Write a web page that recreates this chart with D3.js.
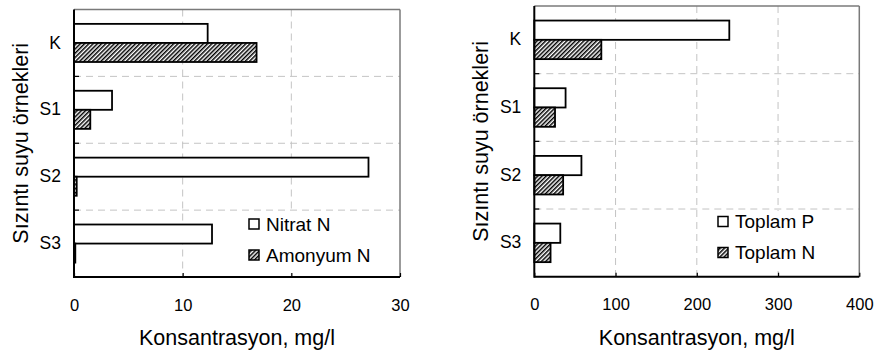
<!DOCTYPE html>
<html>
<head>
<meta charset="utf-8">
<script src="https://cdn.jsdelivr.net/npm/d3@7"></script>
<style>
  html, body { margin: 0; padding: 0; background: #fff; }
  svg { display: block; font-family: "Liberation Sans", Arial, sans-serif; }
</style>
</head>
<body>
<svg id="chart" width="876" height="351"></svg>
<script>
// ---- data ----
const categories = ["K", "S1", "S2", "S3"];
const nitratN = [12.3, 3.5, 27.1, 12.7];
const amonyumN = [16.8, 1.5, 0.25, 0.12];
const toplamP = [240, 38.5, 58, 32];
const toplamN = [82.5, 25.5, 35.5, 20];
const leftTicks = [0, 10, 20, 30];
const rightTicks = [0, 100, 200, 300, 400];
const leftSeriesNames = ["Nitrat N", "Amonyum N"];
const rightSeriesNames = ["Toplam P", "Toplam N"];
const xTitle = "Konsantrasyon, mg/l";
const yTitle = "Sızıntı suyu örnekleri";

const svg = d3.select("#chart");
const defs = svg.append("defs");
const pat = defs.append("pattern")
  .attr("id", "hatch").attr("patternUnits", "userSpaceOnUse")
  .attr("width", 3).attr("height", 3)
  .attr("patternTransform", "rotate(45)");
pat.append("rect").attr("width", 3).attr("height", 3).attr("fill", "#fff");
pat.append("line").attr("x1", 0.75).attr("y1", 0).attr("x2", 0.75).attr("y2", 3)
  .attr("stroke", "#000").attr("stroke-width", 1.5);

function drawChart(cfg) {
  const { left, right, top, bottom, domainMax, ticks, s1, s2, names, legend } = cfg;
  const g = svg.append("g");
  const x = d3.scaleLinear().domain([0, domainMax]).range([left, right]);
  const y = d3.scaleBand().domain(categories).range([top, bottom]).paddingInner(0).paddingOuter(0);
  const bw = y.bandwidth();
  const barH = bw * 0.285;
  const off = (bw - 2 * barH) / 2;

  // gridlines
  const grid = g.append("g").attr("stroke", "#c4c4c4").attr("stroke-width", 1)
    .attr("stroke-dasharray", "7,5").attr("fill", "none");
  ticks.filter(t => t > 0 && t < domainMax).forEach(t => {
    grid.append("line").attr("x1", x(t)).attr("x2", x(t)).attr("y1", top).attr("y2", bottom);
  });
  categories.slice(1).forEach(c => {
    grid.append("line").attr("x1", left).attr("x2", right).attr("y1", y(c)).attr("y2", y(c));
  });

  // bars
  const bars = g.append("g");
  bars.selectAll("rect.a").data(categories).join("rect")
    .attr("x", x(0)).attr("y", c => y(c) + off)
    .attr("width", (c, i) => x(s1[i]) - x(0)).attr("height", barH)
    .attr("fill", "#fff").attr("stroke", "#000").attr("stroke-width", 1.8);
  bars.selectAll("rect.b").data(categories).join("rect")
    .attr("x", x(0)).attr("y", c => y(c) + off + barH)
    .attr("width", (c, i) => x(s2[i]) - x(0)).attr("height", barH)
    .attr("fill", "url(#hatch)").attr("stroke", "#000").attr("stroke-width", 1.8);

  // legend (white background hides gridlines)
  g.append("rect").attr("x", legend.bx).attr("y", legend.by).attr("width", legend.bw).attr("height", legend.bh)
    .attr("fill", "#fff");
  names.forEach((n, i) => {
    const yy = legend.y0 + i * legend.dy;
    g.append("rect").attr("x", legend.x).attr("y", yy).attr("width", 10).attr("height", 10)
      .attr("fill", i === 0 ? "#fff" : "url(#hatch)").attr("stroke", "#000").attr("stroke-width", 1.5);
    g.append("text").attr("x", legend.x + 17).attr("y", yy + 11.5)
      .attr("font-size", 19).attr("fill", "#000").text(n);
  });

  // frame
  g.append("line").attr("x1", left).attr("x2", right).attr("y1", top).attr("y2", top)
    .attr("stroke", "#7a7a7a").attr("stroke-width", 1.5);
  g.append("line").attr("x1", right).attr("x2", right).attr("y1", top).attr("y2", bottom)
    .attr("stroke", "#7a7a7a").attr("stroke-width", 1.5);

  // x axis
  const xa = g.append("g").attr("transform", `translate(0,${bottom})`)
    .call(d3.axisBottom(x).tickValues(ticks).tickSize(-4).tickPadding(22).tickFormat(d3.format("d")));
  xa.select(".domain").remove();
  xa.selectAll(".tick line").attr("stroke", "#000").attr("stroke-width", 1.2);
  xa.selectAll(".tick text").attr("font-size", 16.5).attr("font-family", "Liberation Sans, Arial, sans-serif").attr("fill", "#000");

  // y axis labels
  const ya = g.append("g").attr("transform", `translate(${left},0)`)
    .call(d3.axisLeft(y).tickSize(0).tickPadding(13));
  ya.select(".domain").remove();
  ya.selectAll(".tick text").attr("font-size", 17.5).attr("font-family", "Liberation Sans, Arial, sans-serif").attr("fill", "#000");
  // boundary ticks
  categories.slice(1).forEach(c => {
    g.append("line").attr("x1", left).attr("x2", left + 5).attr("y1", y(c)).attr("y2", y(c))
      .attr("stroke", "#000").attr("stroke-width", 1.2);
  });

  // axis lines
  g.append("line").attr("x1", left).attr("x2", right).attr("y1", bottom).attr("y2", bottom)
    .attr("stroke", "#000").attr("stroke-width", 2);
  g.append("line").attr("x1", left).attr("x2", left).attr("y1", top).attr("y2", bottom + 1)
    .attr("stroke", "#000").attr("stroke-width", 2);

  // titles
  g.append("text").attr("x", (left + right) / 2).attr("y", 345)
    .attr("text-anchor", "middle").attr("font-size", 21.5).attr("fill", "#000").text(xTitle);
  g.append("text").attr("transform", `translate(${left - 46.5},${(top + bottom) / 2}) rotate(-90)`)
    .attr("text-anchor", "middle").attr("font-size", 21.5).attr("fill", "#000").text(yTitle);
}

drawChart({
  left: 74, right: 400, top: 9.5, bottom: 277, domainMax: 30, ticks: leftTicks,
  s1: nitratN, s2: amonyumN, names: leftSeriesNames,
  legend: { bx: 240, by: 213, bw: 152, bh: 59, x: 249, y0: 219, dy: 31 }
});
drawChart({
  left: 534.3, right: 859.3, top: 6, bottom: 276.7, domainMax: 400, ticks: rightTicks,
  s1: toplamP, s2: toplamN, names: rightSeriesNames,
  legend: { bx: 710, by: 211, bw: 141, bh: 60, x: 718, y0: 216.5, dy: 31 }
});
</script>
</body>
</html>
